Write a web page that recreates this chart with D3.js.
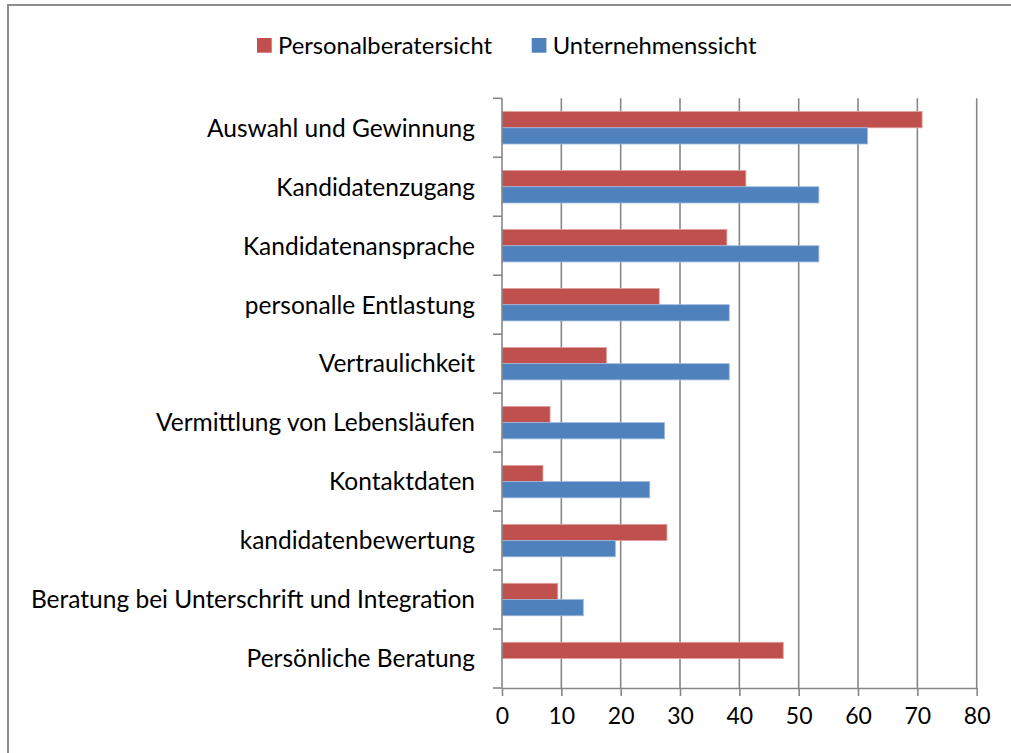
<!DOCTYPE html>
<html><head><meta charset="utf-8">
<script src="https://cdn.jsdelivr.net/npm/d3@7"></script>
<style>body{margin:0;background:#fff}svg{display:block}text{font-family:Lato,"Open Sans",sans-serif;fill:#000}</style>
</head><body>
<svg id="c" width="1011" height="753"></svg>
<script>
const categories = ["Auswahl und Gewinnung","Kandidatenzugang","Kandidatenansprache","personalle Entlastung","Vertraulichkeit","Vermittlung von Lebensläufen","Kontaktdaten","kandidatenbewertung","Beratung bei Unterschrift und Integration","Persönliche Beratung"];
const personalberatersicht = [70.8,41.1,37.9,26.5,17.6,8.1,6.9,27.8,9.4,47.4];
const unternehmenssicht = [61.6,53.4,53.4,38.3,38.3,27.4,24.9,19.1,13.7,0];
const seriesNames = ["Personalberatersicht","Unternehmenssicht"];
const colors = ["#C0504D","#4F81BD"];
const xTicks = [0,10,20,30,40,50,60,70,80];

const svg = d3.select("#c");
svg.append("rect").attr("x",8).attr("y",5).attr("width",1020).attr("height",770)
  .attr("fill","none").attr("stroke","#8c8c8c").attr("stroke-width",2);

const L=502, R=976.7, T=98.3, B=688;
const x = d3.scaleLinear().domain([0,80]).range([L,R]);
const y = d3.scaleBand().domain(categories).range([T,B]).paddingInner(0.45).paddingOuter(0.225);
const yOuter = d3.scaleBand().domain(categories).range([T,B]);
const ys = d3.scaleBand().domain(seriesNames).range([0,y.bandwidth()]);

// gridlines
svg.append("g").selectAll("line").data(xTicks.slice(1)).join("line")
  .attr("x1",d=>x(d)).attr("x2",d=>x(d)).attr("y1",T).attr("y2",B)
  .attr("stroke","#878787").attr("stroke-width",1.6);

// bars
const data = categories.map((c,i)=>({c, vals:[personalberatersicht[i], unternehmenssicht[i]]}));
const g = svg.append("g");
data.forEach(d=>{
  d.vals.forEach((v,j)=>{
    if(v<=0) return;
    g.append("rect").attr("x",x(0)).attr("y",y(d.c)+ys(seriesNames[j]))
      .attr("width",x(v)-x(0)).attr("height",ys.bandwidth())
      .attr("fill",colors[j]).attr("stroke",j==0?"#e0a09e":"#9fb9dc").attr("stroke-width",0.8);
  });
});

// x axis
const xa = svg.append("g").attr("transform",`translate(0,${B})`)
  .call(d3.axisBottom(x).tickValues(xTicks).tickSize(8).tickPadding(12).tickSizeOuter(0));
xa.select(".domain").attr("stroke","#878787").attr("stroke-width",1.6);
xa.selectAll(".tick line").attr("stroke","#878787").attr("stroke-width",1.6);
xa.selectAll("text").style("font-size","23px").attr("fill","#000").style("font-family","Lato");

// y axis
const yTickPos = categories.map(c=>yOuter(c)).concat([B]);
svg.append("line").attr("x1",L).attr("x2",L).attr("y1",T).attr("y2",B).attr("stroke","#878787").attr("stroke-width",1.6);
svg.append("g").selectAll("line").data(yTickPos).join("line")
  .attr("x1",L-9).attr("x2",L).attr("y1",d=>d).attr("y2",d=>d)
  .attr("stroke","#878787").attr("stroke-width",1.6);
svg.append("g").selectAll("text").data(categories).join("text")
  .attr("x",475).attr("y",d=>yOuter(d)+yOuter.bandwidth()/2)
  .attr("dy","0.36em").attr("text-anchor","end").style("font-size","24.5px").text(d=>d);

// legend
const lg = svg.append("g");
const legX = [257, 531.7];
seriesNames.forEach((s,i)=>{
  lg.append("rect").attr("x",legX[i]).attr("y",38).attr("width",14.7).attr("height",14.7).attr("fill",colors[i]);
  lg.append("text").attr("x",legX[i]+21).attr("y",45.3).attr("dy","0.36em").style("font-size","23.8px").text(s);
});
</script>
</body></html>
